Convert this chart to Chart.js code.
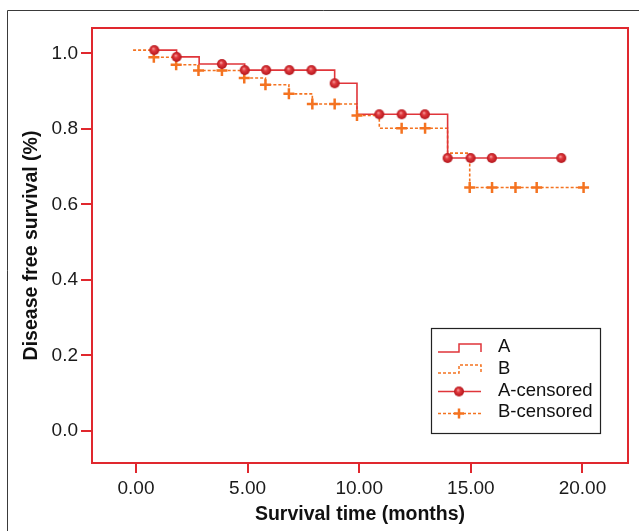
<!DOCTYPE html>
<html>
<head>
<meta charset="utf-8">
<script src="https://cdn.jsdelivr.net/npm/chart.js@4/dist/chart.umd.min.js"></script>
<style>
  html, body { margin: 0; padding: 0; background: #fff; }
  #wrap { position: relative; width: 639px; height: 531px; }
</style>
</head>
<body>
<div id="wrap"><canvas id="c" width="639" height="531"></canvas></div>
<script>
// ---- data ----
const aTimes = [0.82, 1.82, 2.83, 4.87, 8.9, 9.9, 13.96, 19.05];
const aSurv  = [1.009, 0.991, 0.972, 0.956, 0.921, 0.839, 0.723, 0.723];

const bTimes = [-0.13, 0.8, 1.8, 2.8, 4.85, 5.8, 6.85, 7.9, 9.9, 10.9, 13.96, 14.95, 20.05];
const bSurv  = [1.009, 0.990, 0.970, 0.955, 0.935, 0.917, 0.893, 0.866, 0.836, 0.802, 0.736, 0.645, 0.645];

const aCensTimes = [0.82, 1.82, 3.85, 4.87, 5.83, 6.87, 7.86, 8.9, 10.9, 11.9, 12.94, 13.96, 14.99, 15.94, 19.05];
const aCensSurv  = [1.009, 0.991, 0.972, 0.956, 0.956, 0.956, 0.956, 0.921, 0.839, 0.839, 0.839, 0.723, 0.723, 0.723, 0.723];

const bCensTimes = [0.8, 1.8, 2.8, 3.85, 4.85, 5.8, 6.85, 7.9, 8.9, 9.9, 11.9, 12.95, 14.95, 15.95, 17.0, 17.95, 20.05];
const bCensSurv  = [0.990, 0.970, 0.955, 0.955, 0.935, 0.917, 0.893, 0.866, 0.866, 0.836, 0.802, 0.802, 0.645, 0.645, 0.645, 0.645, 0.645];

const xTickValues = [0, 5, 10, 15, 20];
const yTickValues = [0, 0.2, 0.4, 0.6, 0.8, 1.0];
const seriesLabels = ['A', 'B', 'A-censored', 'B-censored'];
const xTitle = 'Survival time (months)';
const yTitle = 'Disease free survival (%)';

// ---- styling ----
const RED = '#e0353a';
const FRAME = '#e0282e';
const ORANGE = '#f47321';
const FONT = "'Liberation Sans', Arial, sans-serif";

function toXY(xs, ys) { return xs.map((x, i) => ({ x: x, y: ys[i] })); }

// sphere-like marker for A-censored
function makeSphere(r) {
  const s = Math.ceil(r * 2 + 2);
  const cv = document.createElement('canvas');
  cv.width = s; cv.height = s;
  const g = cv.getContext('2d');
  const c = s / 2;
  const grad = g.createRadialGradient(c - r * 0.2, c - r * 0.3, 0.3, c, c, r);
  grad.addColorStop(0, '#f59a9a');
  grad.addColorStop(0.35, '#e03a3e');
  grad.addColorStop(1, '#b3151b');
  g.fillStyle = grad;
  g.beginPath(); g.arc(c, c, r, 0, Math.PI * 2); g.fill();
  return cv;
}
const sphere = makeSphere(5);

const framePlugin = {
  id: 'frame',
  beforeDraw(chart) {
    const ctx = chart.ctx;
    ctx.save();
    ctx.fillStyle = '#fff';
    ctx.fillRect(0, 0, chart.width, chart.height);
    ctx.strokeStyle = '#3a3a3a';
    ctx.lineWidth = 1;
    ctx.beginPath();
    ctx.moveTo(7.5, chart.height);
    ctx.lineTo(7.5, 10.5);
    ctx.lineTo(chart.width, 10.5);
    ctx.stroke();
    ctx.restore();
  },
  beforeDatasetsDraw(chart) {
    const a = chart.chartArea;
    const ctx = chart.ctx;
    ctx.save();
    ctx.strokeStyle = FRAME;
    ctx.lineWidth = 2;
    ctx.strokeRect(a.left, a.top, a.right - a.left, a.bottom - a.top);
    ctx.restore();
  }
};

const legendPlugin = {
  id: 'customLegend',
  afterDraw(chart) {
    const ctx = chart.ctx;
    ctx.save();
    const bx = 431.5, by = 328.5, bw = 169, bh = 105;
    ctx.fillStyle = '#fff';
    ctx.fillRect(bx, by, bw, bh);
    ctx.strokeStyle = '#222';
    ctx.lineWidth = 1.2;
    ctx.strokeRect(bx, by, bw, bh);

    const x0 = 438, xm = 459, x1 = 481;
    // A step glyph
    ctx.lineWidth = 1.5;
    ctx.strokeStyle = RED;
    ctx.setLineDash([]);
    ctx.beginPath();
    ctx.moveTo(x0, 352); ctx.lineTo(xm, 352); ctx.lineTo(xm, 344); ctx.lineTo(x1, 344); ctx.lineTo(x1, 352);
    ctx.stroke();
    // B step glyph
    ctx.strokeStyle = ORANGE;
    ctx.setLineDash([3, 2]);
    ctx.beginPath();
    ctx.moveTo(x0, 373); ctx.lineTo(xm, 373); ctx.lineTo(xm, 365); ctx.lineTo(x1, 365); ctx.lineTo(x1, 373);
    ctx.stroke();
    // A-censored
    ctx.setLineDash([]);
    ctx.strokeStyle = RED;
    ctx.beginPath(); ctx.moveTo(x0, 391.5); ctx.lineTo(x1, 391.5); ctx.stroke();
    ctx.drawImage(sphere, xm - sphere.width / 2, 391.5 - sphere.height / 2);
    // B-censored
    ctx.strokeStyle = ORANGE;
    ctx.setLineDash([3, 2]);
    ctx.beginPath(); ctx.moveTo(x0, 413.5); ctx.lineTo(x1, 413.5); ctx.stroke();
    ctx.setLineDash([]);
    ctx.lineWidth = 2.5;
    ctx.beginPath();
    ctx.moveTo(xm - 5, 413.5); ctx.lineTo(xm + 5, 413.5);
    ctx.moveTo(xm, 408.5); ctx.lineTo(xm, 418.5);
    ctx.stroke();

    // text
    ctx.fillStyle = '#111';
    ctx.font = '18.5px ' + FONT;
    ctx.textBaseline = 'middle';
    ctx.textAlign = 'left';
    const ys = [347, 369, 391, 412];
    seriesLabels.forEach((t, i) => ctx.fillText(t, 498, ys[i]));
    ctx.restore();
  }
};

const chart = new Chart(document.getElementById('c'), {
  type: 'scatter',
  data: {
    datasets: [
      {
        label: seriesLabels[2],
        data: toXY(aCensTimes, aCensSurv),
        showLine: false,
        pointStyle: sphere,
        pointRadius: 5,
        order: 0
      },
      {
        label: seriesLabels[3],
        data: toXY(bCensTimes, bCensSurv),
        showLine: false,
        pointStyle: 'cross',
        pointRadius: 5.5,
        pointBorderWidth: 2.5,
        pointBorderColor: ORANGE,
        pointBackgroundColor: ORANGE,
        order: 1
      },
      {
        label: seriesLabels[0],
        data: toXY(aTimes, aSurv),
        showLine: true,
        stepped: 'before',
        borderColor: RED,
        borderWidth: 1.6,
        pointRadius: 0,
        fill: false,
        order: 2
      },
      {
        label: seriesLabels[1],
        data: toXY(bTimes, bSurv),
        showLine: true,
        stepped: 'before',
        borderColor: ORANGE,
        borderWidth: 1.6,
        borderDash: [3, 2],
        pointRadius: 0,
        fill: false,
        order: 3
      }
    ]
  },
  options: {
    responsive: false,
    animation: false,
    events: [],
    layout: { padding: { top: 28, right: 11, left: 0, bottom: 0 } },
    plugins: {
      legend: { display: false },
      tooltip: { enabled: false }
    },
    scales: {
      x: {
        type: 'linear',
        min: -1.97,
        max: 22.04,
        afterBuildTicks(scale) { scale.ticks = xTickValues.map(v => ({ value: v })); },
        afterFit(scale) { scale.height = 68; },
        ticks: {
          font: { family: FONT, size: 19 },
          color: '#1a1a1a',
          padding: 4,
          autoSkip: false,
          maxRotation: 0,
          callback: v => Number(v).toFixed(2)
        },
        grid: {
          display: true,
          drawOnChartArea: false,
          drawTicks: true,
          tickLength: 10,
          color: FRAME,
          lineWidth: 2
        },
        border: { display: true, color: FRAME, width: 2 },
        title: {
          display: true,
          text: xTitle,
          font: { family: FONT, size: 19.5, weight: 'bold' },
          color: '#111',
          padding: { top: 5, bottom: 5 }
        }
      },
      y: {
        type: 'linear',
        min: -0.0848,
        max: 1.0675,
        afterBuildTicks(scale) { scale.ticks = yTickValues.map(v => ({ value: v })); },
        afterFit(scale) { scale.width = 92; },
        ticks: {
          font: { family: FONT, size: 19 },
          color: '#1a1a1a',
          padding: 3,
          autoSkip: false,
          callback: v => Number(v).toFixed(1)
        },
        grid: {
          display: true,
          drawOnChartArea: false,
          drawTicks: true,
          tickLength: 11,
          color: FRAME,
          lineWidth: 2
        },
        border: { display: true, color: FRAME, width: 2 },
        title: {
          display: true,
          text: yTitle,
          font: { family: FONT, size: 19.5, weight: 'bold' },
          color: '#111',
          padding: { top: 20, bottom: 20 }
        }
      }
    }
  },
  plugins: [framePlugin, legendPlugin]
});
</script>
</body>
</html>
